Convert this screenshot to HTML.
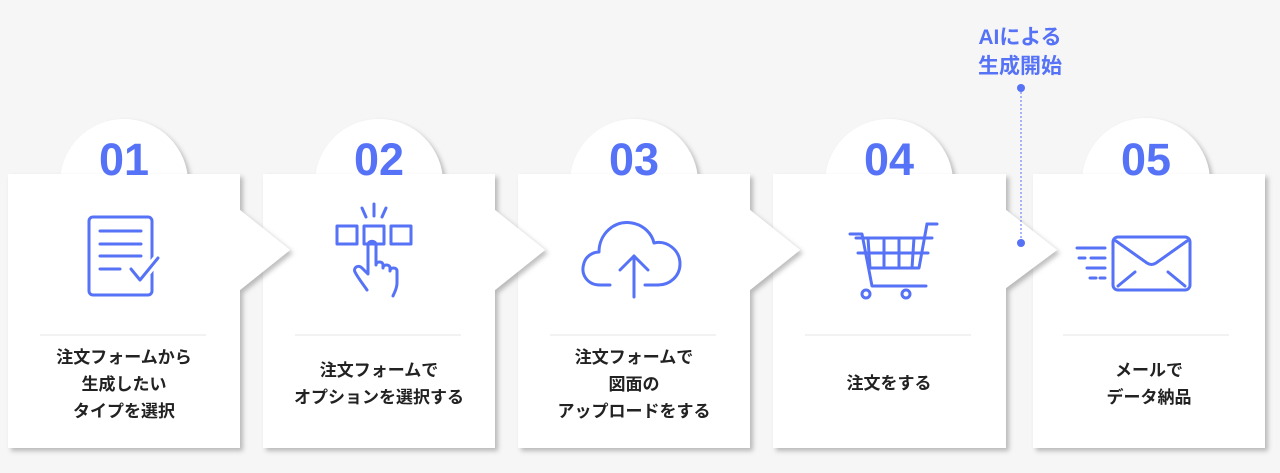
<!DOCTYPE html><html><head><meta charset="utf-8"><style>
body{margin:0;width:1280px;height:473px;background:#f6f6f6;position:relative;overflow:hidden;font-family:"Liberation Sans","Noto Sans CJK JP",sans-serif}
.t{position:absolute;text-align:center;font-weight:bold;font-size:17px;color:#222;line-height:27px;width:232px}
.n{position:absolute;width:130px;text-align:center;font-weight:bold;font-size:45px;color:#5672f6;top:134px;line-height:52px}
</style></head><body>
<svg width="1280" height="473" style="position:absolute;left:0;top:0">
<defs><filter id="s" x="-10%" y="-10%" width="130%" height="130%"><feDropShadow dx="3" dy="3" stdDeviation="2.5" flood-color="#000" flood-opacity="0.25"/></filter></defs>
<g fill="#fff" filter="url(#s)">
<circle cx="124" cy="183" r="64"/><circle cx="379" cy="183" r="64"/><circle cx="634" cy="183" r="64"/><circle cx="889" cy="183" r="64"/><circle cx="1146" cy="182" r="64"/>
</g>
<g fill="#fff">
<path filter="url(#s)" d="M1033 174H1265V448H1033Z"/>
<path filter="url(#s)" d="M773 174H1006V210L1057 250L1006 288V448H773Z"/>
<path filter="url(#s)" d="M518 174H750V210L800 250L750 290V448H518Z"/>
<path filter="url(#s)" d="M263 174H495V210L545 250L495 290V448H263Z"/>
<path filter="url(#s)" d="M8 174H240V210L290 250L240 290V448H8Z"/>
</g>
<g stroke="#e4e4e4" stroke-width="1"><line x1="40" y1="335" x2="206" y2="335"/><line x1="295" y1="335" x2="461" y2="335"/><line x1="550" y1="335" x2="716" y2="335"/><line x1="805" y1="335" x2="971" y2="335"/><line x1="1063" y1="335" x2="1229" y2="335"/></g>
<g fill="none" stroke="#5672f6" stroke-width="3" stroke-linecap="round" stroke-linejoin="round">
<rect x="89" y="217" width="63" height="78" rx="4"/><line x1="100" y1="231" x2="141" y2="231"/><line x1="100" y1="244" x2="141" y2="244"/><line x1="100" y1="256" x2="141" y2="256"/><line x1="100" y1="269" x2="120" y2="269"/>
<path d="M131 269l9 11 18-22" stroke="#fff" stroke-width="9"/><path d="M131 269l9 11 18-22"/>
<rect x="337" y="226" width="20" height="18"/><rect x="364" y="226" width="20" height="18"/><rect x="391" y="226" width="20" height="18"/>
<line x1="374" y1="204" x2="374" y2="216"/><line x1="362" y1="208" x2="366" y2="217"/><line x1="386" y1="208" x2="382" y2="217"/>
<path d="M367 290c-4-6-9-12-12-18-2-4 3-8 7-4l6 6v-29c0-5 8-5 8 0v20c0-4 7-4 7 0v3c0-4 7-4 7 0v3c0-4 7-4 7 0v12c0 6-3 10-4 13"/>
<path d="M610 285h-10c-12 0-20-10-16-22 2-7 9-11 15-11 0-18 15-32 33-29 12 2 20 11 22 20 13-3 26 7 26 21 0 12-10 21-22 21h-13"/>
<line x1="634" y1="297" x2="634" y2="256"/><path d="M620 270l14-14 14 14"/>
<path d="M850 234h12l10 52h54"/><path d="M927 224h10"/><path d="M927 224l-8 44h-48"/><path d="M856 238h76"/>
<line x1="858" y1="253" x2="928" y2="253"/><line x1="868" y1="238" x2="870" y2="268"/><line x1="884" y1="238" x2="884" y2="268"/><line x1="899" y1="238" x2="899" y2="268"/><line x1="914" y1="238" x2="912" y2="268"/>
<circle cx="866" cy="294" r="4"/><circle cx="906" cy="294" r="4"/>
<rect x="1113" y="237" width="77" height="53" rx="5"/><path d="M1116 241l31 22c3 2 6 2 9 0l31-22"/><line x1="1118" y1="286" x2="1135" y2="272"/><line x1="1185" y1="286" x2="1168" y2="272"/>
<line x1="1077" y1="248" x2="1105" y2="248"/><line x1="1079" y1="258" x2="1085" y2="258"/><line x1="1091" y1="258" x2="1105" y2="258"/><line x1="1087" y1="268" x2="1105" y2="268"/><line x1="1090" y1="278" x2="1096" y2="278"/><line x1="1100" y1="278" x2="1105" y2="278"/>
</g>
<line x1="1021" y1="88" x2="1021" y2="243" stroke="#5672f6" stroke-width="1" stroke-dasharray="2 2"/>
<circle cx="1021" cy="88" r="4" fill="#5672f6"/><circle cx="1021" cy="243" r="4" fill="#5672f6"/>
</svg>
<div class="n" style="left:59px">01</div><div class="n" style="left:314px">02</div><div class="n" style="left:569px">03</div><div class="n" style="left:824px">04</div><div class="n" style="left:1081px">05</div>
<div class="t" style="left:8px;top:344px">注文フォームから<br>生成したい<br>タイプを選択</div>
<div class="t" style="left:263px;top:357px">注文フォームで<br>オプションを選択する</div>
<div class="t" style="left:518px;top:344px">注文フォームで<br>図面の<br>アップロードをする</div>
<div class="t" style="left:773px;top:370px">注文をする</div>
<div class="t" style="left:1033px;top:357px">メールで<br>データ納品</div>
<div style="position:absolute;left:960px;top:23px;width:120px;text-align:center;color:#5672f6;font-weight:bold;font-size:21px;line-height:29px">AIによる<br>生成開始</div>
</body></html>
